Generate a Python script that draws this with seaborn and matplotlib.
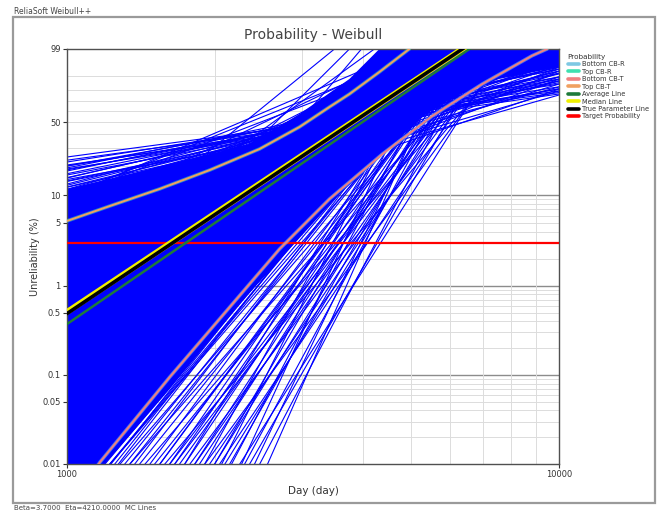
import numpy as np
import pandas as pd
import matplotlib
matplotlib.use("Agg")
import matplotlib.pyplot as plt
import seaborn as sns
from matplotlib.patches import Rectangle
from matplotlib.lines import Line2D

# ---------------- data ----------------
# Monte-Carlo Weibull lines (shape beta, scale eta in days)
mc_beta = [
    # central body
    2.18, 2.34, 2.25, 2.38, 2.20, 2.32, 2.13, 2.36, 2.29, 2.20, 2.34, 2.22,
    2.85, 2.74, 2.91, 2.69, 2.83, 2.60, 2.88, 2.66, 2.69, 2.85, 2.71, 2.80,
    3.10, 3.29, 3.04, 3.19, 2.94, 3.26, 3.00, 3.22, 3.22, 3.07, 3.16, 3.04,
    3.60, 3.33, 3.50, 3.22, 3.57, 3.29, 3.53, 3.40, 3.36, 3.46, 3.33, 3.53,
    3.63, 3.81, 3.52, 3.89, 3.59, 3.85, 3.70, 3.93, 3.78, 3.63, 3.85, 3.67,
    4.15, 3.83, 4.23, 3.91, 4.19, 4.03, 4.27, 3.95, 3.95, 4.19, 3.99, 4.11,
    4.16, 4.61, 4.25, 4.56, 4.39, 4.65, 4.30, 4.52, 4.56, 4.34, 4.47, 4.30,
    5.06, 4.68, 5.02, 4.82, 5.11, 4.72, 4.97, 4.58, 4.77, 4.92, 4.72, 5.02,
    5.27, 5.65, 5.44, 5.76, 5.33, 5.60, 5.16, 5.71, 5.54, 5.33, 5.65, 5.38,
    6.91, 6.64, 7.05, 6.51, 6.84, 6.31, 6.98, 6.44, 6.51, 6.91, 6.58, 6.78,
    # shallow lines (upper left / right fan)
    0.76, 0.89, 1.02, 1.13, 1.24, 1.11, 1.39, 1.52, 1.37, 1.67, 1.54, 1.85,
    1.72, 2.04, 1.24, 1.11, 1.37, 1.02,
    0.742, 0.876, 1.000, 0.899, 1.146, 1.056, 1.292, 1.202, 1.427, 1.348,
    1.247, 1.562, 1.517, 1.438, 0.798,
    # lines fanning out to the right edge
    2.045, 1.917, 1.789, 1.704, 1.619, 1.960, 1.874, 1.448, 2.045, 1.576,
    2.045, 2.300, 1.448, 1.917, 2.258,
    # steep lines (lower right)
    7.5, 8.0, 9.0, 8.5, 10.0, 9.5, 11.0, 10.5, 12.0, 11.5, 12.5, 7.2,
    6.57, 6.39, 6.90, 6.39, 6.82, 6.30, 7.25, 6.86, 6.39, 7.42, 6.90, 7.42,
    6.57, 7.98, 7.25, 7.71, 8.21, 7.42, 7.93, 8.51, 7.54, 8.21, 8.84, 8.27,
    8.95, 9.66, 8.68, 9.58, 10.55, 10.22,
    # steep lines (upper left)
    4.5, 5.5, 6.5, 4.0,
]
mc_eta = [
    5152, 4399, 4040, 3775, 3494, 3284, 2938, 2632, 4727, 3897, 3404, 2768,
    5073, 4541, 4208, 3981, 3763, 3520, 3325, 2892, 4831, 4096, 3644, 3124,
    5124, 4569, 4325, 4098, 3889, 3713, 3452, 3147, 4816, 4210, 3800, 3281,
    5054, 4666, 4374, 4194, 3992, 3801, 3604, 3258, 4886, 4278, 3896, 3445,
    5154, 4670, 4469, 4244, 4079, 3908, 3698, 3416, 4878, 4357, 3990, 3538,
    5093, 4768, 4473, 4333, 4148, 3992, 3810, 3491, 4939, 4393, 4073, 3658,
    5201, 4720, 4566, 4369, 4227, 4071, 3892, 3623, 4897, 4470, 4148, 3750,
    5073, 4820, 4574, 4449, 4286, 4167, 3994, 3716, 4967, 4512, 4238, 3869,
    5175, 4798, 4657, 4492, 4400, 4256, 4116, 3874, 4956, 4602, 4314, 3991,
    5088, 4889, 4697, 4644, 4504, 4436, 4268, 4077, 5031, 4658, 4471, 4176,
    5906, 5393, 4800, 4500, 4270, 5540, 4216, 3982, 4982, 3963, 4750, 3862,
    4535, 3758, 5223, 4040, 5977, 6134,
    5517, 4928, 4482, 5784, 4146, 5160, 4063, 4811, 3967, 4553,
    5479, 4087, 4482, 5140, 6341,
    5516, 5906, 6385, 6944, 7619, 5667, 6166, 6868, 6927, 8075,
    5378, 6594, 6171, 7736, 6250,
    5272, 5236, 4827, 5372, 4785, 5263, 4766, 5195, 4879, 5359, 5342, 5815,
    4854, 5171, 4752, 5418, 5058, 5794, 4892, 5381, 6090, 5102, 5727, 5346,
    6422, 5128, 5898, 5594, 5329, 6151, 5812, 5489, 6467, 5987, 5657, 6223,
    5859, 5557, 6487, 6149, 5901, 5656,
    2490, 2841, 3137, 2877,
]

# dense (fully overlapping) core of the Monte-Carlo band: outline (days, %)
core_t = [1000, 1474, 2351, 2969, 3750, 4314, 10000, 10000, 7556, 5982, 5200,
          4520, 3579, 2834, 2212, 1618, 1194, 1000]
core_f = [11.6, 18.65, 32.6, 57.5, 88.0, 99.0, 99.0, 94.4, 88.0, 71.7, 52.9,
          29.3, 10.24, 2.57, 0.579, 0.0696, 0.01, 0.01]

# fitted / reference lines (beta, eta)
true_beta, true_eta = 3.70, 4210
median_beta, median_eta = 3.68, 4195
average_beta, average_eta = 3.78, 4387
target_probability = 3.0  # %

# confidence bounds (time in days, unreliability in %)
upper_cb_t = [1000, 1222, 1543, 1950, 2463, 2969, 3416, 3750, 4314, 4963]
upper_cb_f = [5.24, 7.62, 11.6, 18.2, 29.3, 45.8, 64.2, 76.2, 92.1, 99.0]
lower_cb_t = [1088, 1167, 1618, 2212, 2704, 3416, 4375, 5526, 6980, 8813, 9457]
lower_cb_f = [0.0061, 0.0105, 0.095, 0.711, 2.57, 9.06, 26.2, 55.7, 84.4, 97.9, 99.0]

y_tick_values = [99, 50, 10, 5, 1, 0.5, 0.1, 0.05, 0.01]
y_tick_labels = ["99", "50", "10", "5", "1", "0.5", "0.1", "0.05", "0.01"]
y_major_grid = [10, 1, 0.1]
y_minor_grid = [90, 80, 70, 60, 50, 40, 30, 20,
                9, 8, 7, 6, 5, 4, 3, 2,
                0.9, 0.8, 0.7, 0.6, 0.5, 0.4, 0.3, 0.2,
                0.09, 0.08, 0.07, 0.06, 0.05, 0.04, 0.03, 0.02]
x_minor_grid = [2000, 3000, 4000, 5000, 6000, 7000, 8000, 9000]

legend_labels = ["Bottom CB-R", "Top CB-R", "Bottom CB-T", "Top CB-T",
                 "Average Line", "Median Line", "True Parameter Line",
                 "Target Probability"]
legend_colors = ["#7ec8e3", "#3fe0b0", "#f08080", "#f0a060",
                 "#1f7a3a", "#f0f000", "#000000", "#ff0000"]

# ---------------- helpers ----------------
def weib_fwd(p):
    p = np.clip(np.asarray(p, dtype=float), 1e-12, 99.9999999)
    return np.log(-np.log1p(-p / 100.0))


def weib_inv(w):
    return 100.0 * (-np.expm1(-np.exp(np.asarray(w, dtype=float))))


t_grid = np.geomspace(1000, 10000, 300)


def unreliability(beta, eta):
    return 100.0 * (-np.expm1(-(t_grid / eta) ** beta))


# ---------------- figure ----------------
sns.set_theme(style="white")
plt.rcParams['font.family'] = ['DejaVu Sans']

fig = plt.figure(figsize=(6.59, 5.12), dpi=100)
ax = fig.add_axes([67 / 659, 48 / 512, (559 - 67) / 659, (464 - 49) / 512])

mc = pd.concat(
    [pd.DataFrame({"t": t_grid, "F": unreliability(b, e), "line": i})
     for i, (b, e) in enumerate(zip(mc_beta, mc_eta))],
    ignore_index=True)

ax.fill(core_t, core_f, color="#0000ff", lw=0, zorder=1.6)
sns.lineplot(data=mc, x="t", y="F", units="line", estimator=None,
             color="#0000ff", lw=0.8, ax=ax, legend=False, sort=False, zorder=2)

# target probability
ax.axhline(target_probability, color="#ff0000", lw=1.6, zorder=3)

# confidence bounds
for tt, ff, c_r, c_t in [(lower_cb_t, lower_cb_f, legend_colors[0], legend_colors[2]),
                         (upper_cb_t, upper_cb_f, legend_colors[1], legend_colors[3])]:
    sns.lineplot(x=tt, y=ff, color=c_r, lw=2.6, ax=ax, sort=False, zorder=4, alpha=0.55)
    sns.lineplot(x=tt, y=ff, color=c_t, lw=1.4, ax=ax, sort=False, zorder=5)

# average, median, true lines
sns.lineplot(x=t_grid, y=unreliability(average_beta, average_eta),
             color=legend_colors[4], lw=1.8, ax=ax, zorder=6)
sns.lineplot(x=t_grid, y=unreliability(median_beta, median_eta),
             color=legend_colors[5], lw=4.2, ax=ax, zorder=7)
sns.lineplot(x=t_grid, y=unreliability(true_beta, true_eta),
             color="#000000", lw=2.6, ax=ax, zorder=8)

ax.set_xscale("log")
ax.set_yscale("function", functions=(weib_fwd, weib_inv))
ax.set_xlim(1000, 10000)
ax.set_ylim(0.01, 99)

# grid
for v in y_minor_grid:
    ax.axhline(v, color="#dcdcdc", lw=0.7, zorder=1)
for v in y_major_grid:
    ax.axhline(v, color="#8c8c8c", lw=1.0, zorder=1)
for v in x_minor_grid:
    ax.axvline(v, color="#dcdcdc", lw=0.7, zorder=1)

ax.set_yticks(y_tick_values)
ax.set_yticklabels(y_tick_labels)
ax.set_yticks([], minor=True)
ax.set_xticks([1000, 10000])
ax.set_xticklabels(["1000", "10000"])
ax.set_xticks([], minor=True)
ax.tick_params(axis="both", which="major", labelsize=6, colors="#333333",
               length=3, width=0.8, direction="out", left=True, bottom=True, pad=1.5)

for s in ax.spines.values():
    s.set_color("#505050")
    s.set_linewidth(1.0)

ax.set_title("Probability - Weibull", fontsize=10, color="#444444", pad=7)
ax.set_xlabel("Day (day)", fontsize=7.5, color="#333333", labelpad=5)
ax.set_ylabel("Unreliability (%)", fontsize=7, color="#333333", labelpad=2)

# legend
handles = [Line2D([0], [0], color=c, lw=2.6) for c in legend_colors]
leg = ax.legend(handles, legend_labels, loc="upper left", bbox_to_anchor=(1.012, 0.995),
                frameon=False, fontsize=4.8, title="Probability", title_fontsize=5.2,
                handlelength=1.7, handletextpad=0.5, labelspacing=0.22, borderaxespad=0.0)
leg._legend_box.align = "left"
for txt in leg.get_texts():
    txt.set_color("#333333")
leg.get_title().set_color("#333333")

# window-like frame
fig.add_artist(Rectangle((13 / 659, 9 / 512), 642 / 659, 486 / 512, transform=fig.transFigure,
                         fill=False, edgecolor="#9a9a9a", lw=1.6))
fig.text(14 / 659, (512 - 11) / 512, "ReliaSoft Weibull++", fontsize=5.5,
         color="#444444", va="center", ha="left")
fig.text(14 / 659, (512 - 508) / 512, "Beta=3.7000  Eta=4210.0000  MC Lines", fontsize=5,
         color="#444444", va="center", ha="left")

fig.savefig("out.png", dpi=100)
